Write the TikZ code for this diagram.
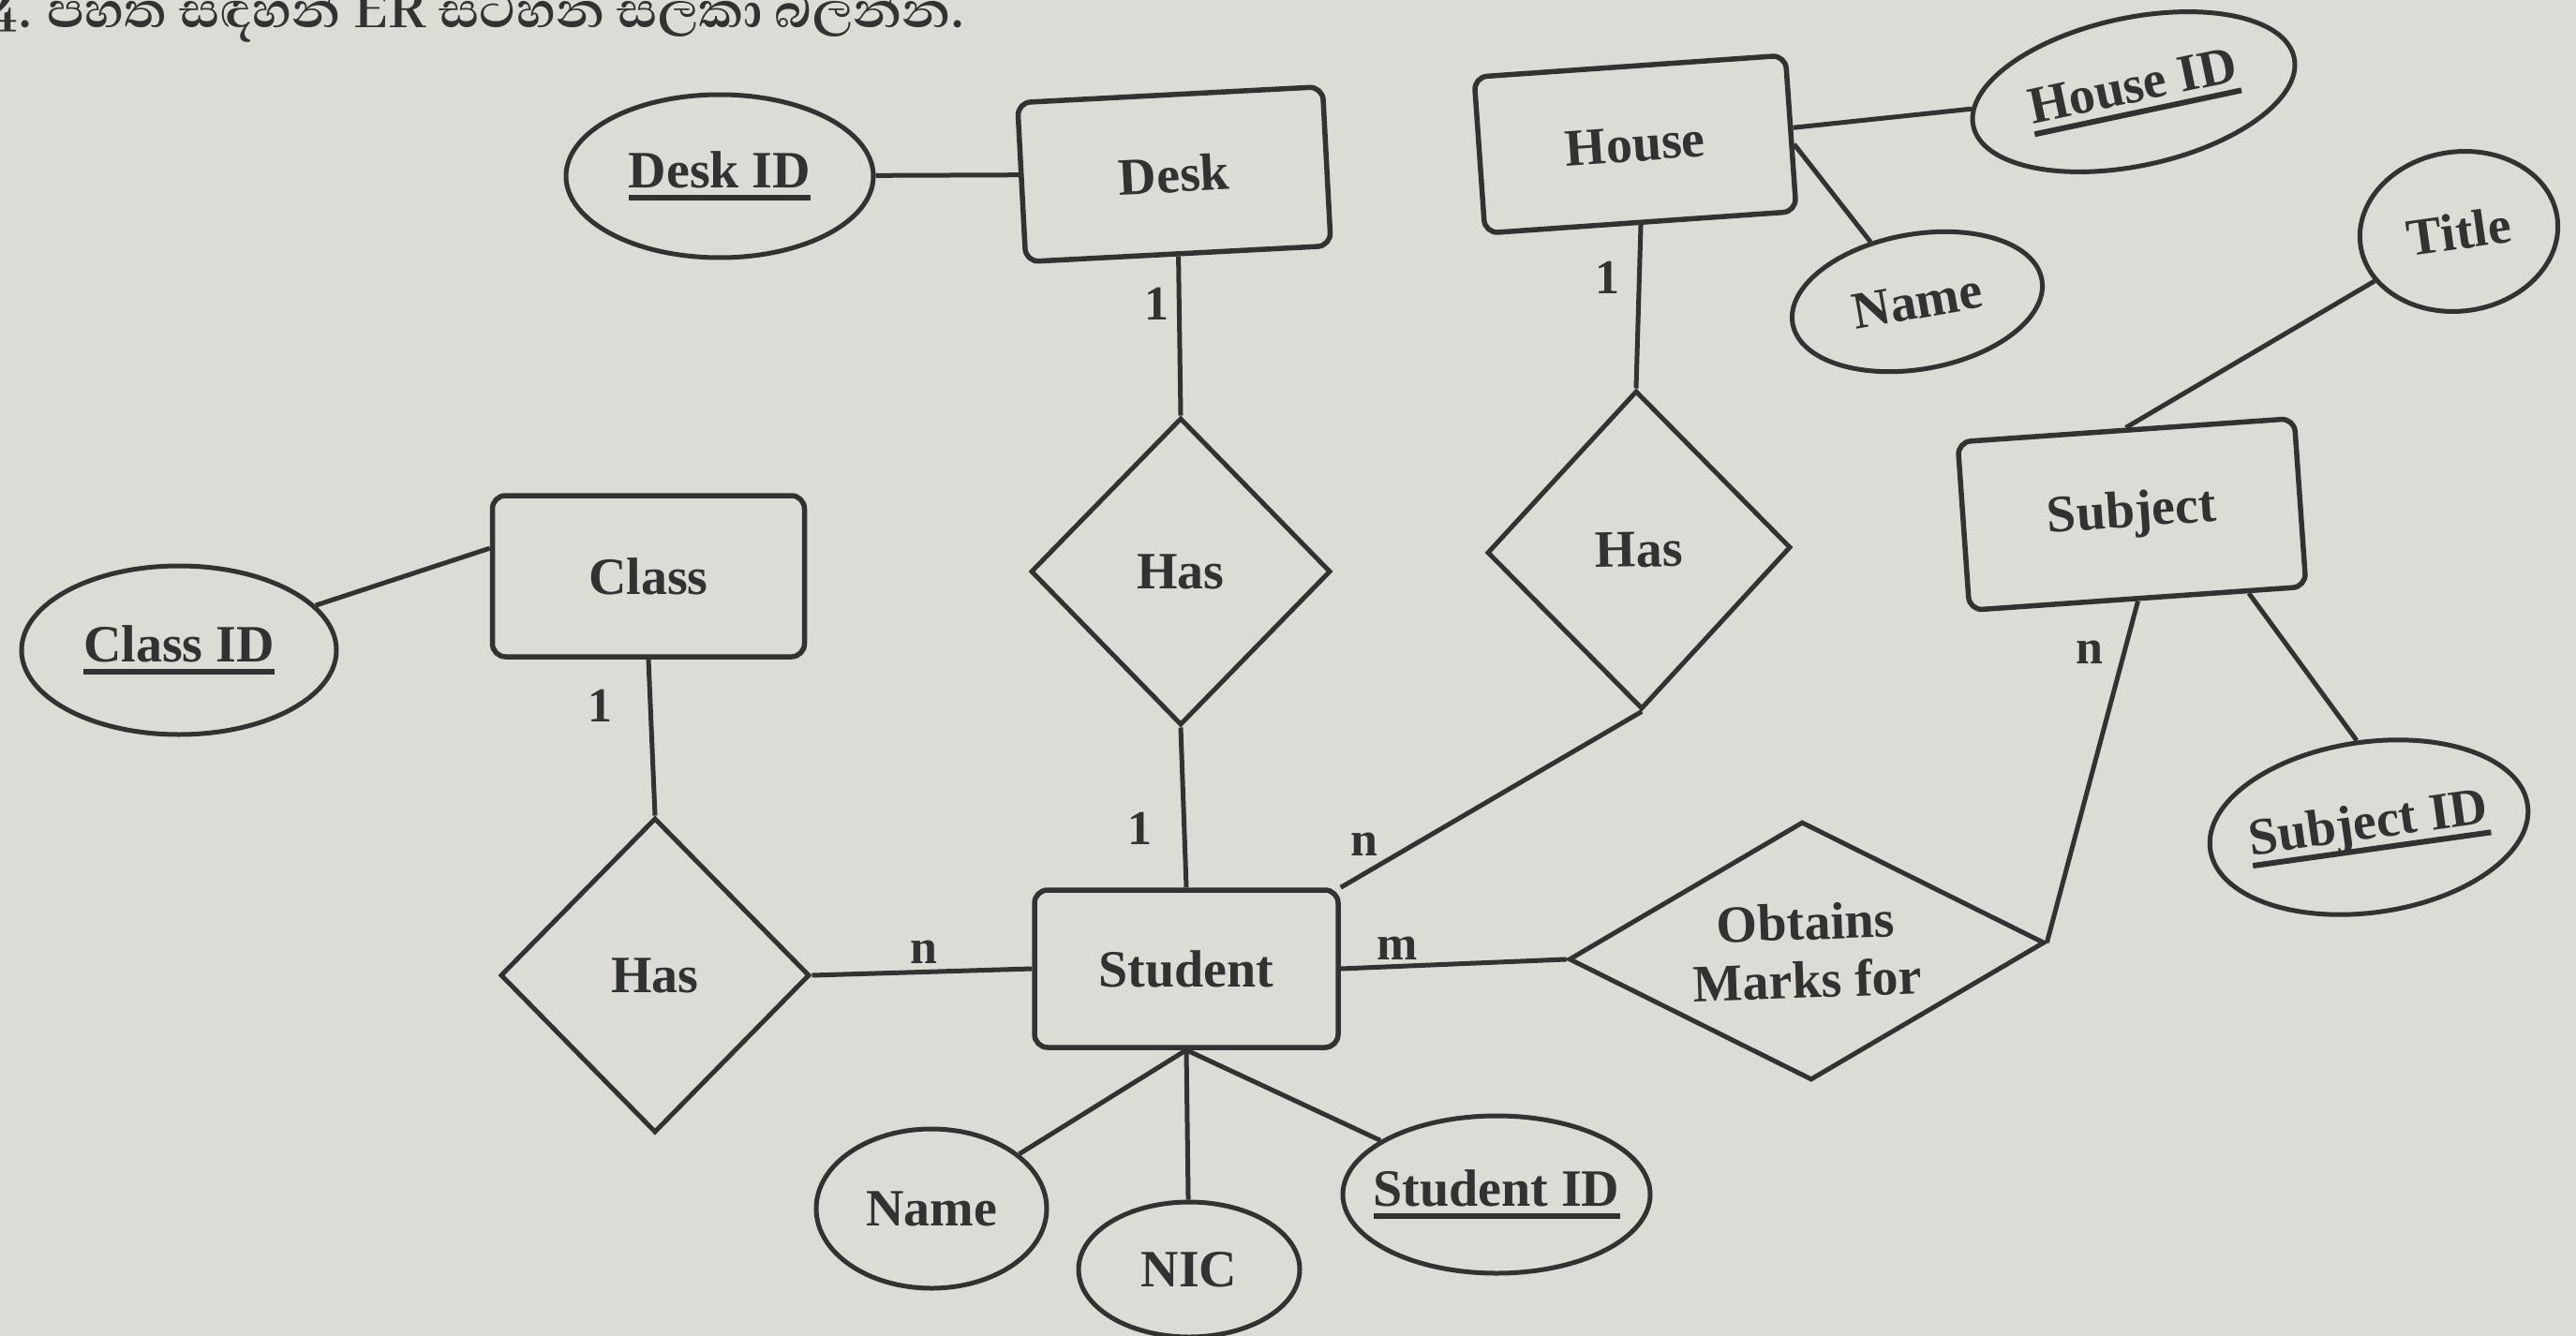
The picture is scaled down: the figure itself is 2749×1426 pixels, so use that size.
\documentclass[tikz,border=0pt]{standalone}
\usepackage{fontspec}
\setmainfont{Liberation Serif}
\newfontfamily\sinhalafont[Script=Sinhala]{Abhaya Libre}
\usetikzlibrary{shapes.geometric}
\definecolor{paper}{RGB}{221,219,214}
\definecolor{ink}{RGB}{50,50,50}
\newcommand{\keyattr}[1]{\makebox[0pt]{\setbox0=\hbox{#1}\rlap{\rule[-14pt]{\wd0}{6pt}}\box0}}
\begin{document}
\begin{tikzpicture}[x=1pt,y=-1pt,
  every node/.style={font=\fontsize{56}{62}\selectfont\bfseries, text=ink},
  entity/.style={draw=ink, line width=5.5pt, rounded corners=14pt, inner sep=0pt, rectangle},
  attr/.style={draw=ink, line width=5pt, ellipse, inner sep=0pt},
  rel/.style={draw=ink, line width=5pt, diamond, inner sep=0pt},
  conn/.style={draw=ink, line width=5pt},
  card/.style={font=\fontsize{52}{56}\selectfont\bfseries, text=ink, inner sep=0pt}]
\fill[paper] (0,0) rectangle (2749,1426);
\useasboundingbox (0,0) rectangle (2749,1426);

\node[anchor=base west, inner sep=0pt, font=\sinhalafont\bfseries\fontsize{68}{72}\selectfont] (head) at (-14,30) {4. පහත සඳහන් ER සටහන සලකා බලන්න.};

% entities
\node[entity, minimum width=326pt, minimum height=170pt, rotate=3] (desk) at (1253,186) {Desk};
\node[entity, minimum width=333pt, minimum height=167pt, rotate=4] (house) at (1745,154) {House};
\node[entity, minimum width=360pt, minimum height=180pt, rotate=4] (subject) at (2275,549) {Subject};
\node[entity, minimum width=333pt, minimum height=172pt] (class) at (692,615) {Class};
\node[entity, minimum width=324pt, minimum height=168pt] (student) at (1266,1034) {Student};

% attributes
\node[attr, minimum width=328pt, minimum height=174pt] (deskid) at (768,188) {\keyattr{Desk ID}};
\node[attr, minimum width=350pt, minimum height=158pt, rotate=12] (houseid) at (2277,98) {\keyattr{House ID}};
\node[attr, minimum width=270pt, minimum height=144pt, rotate=10] (hname) at (2046,322) {Name};
\node[attr, minimum width=212pt, minimum height=170pt, rotate=8] (title) at (2624,247) {Title};
\node[attr, minimum width=342pt, minimum height=182pt, rotate=8] (subjectid) at (2528,883) {\keyattr{Subject ID}};
\node[attr, minimum width=336pt, minimum height=180pt] (classid) at (191,694) {\keyattr{Class ID}};
\node[attr, minimum width=246pt, minimum height=170pt] (sname) at (994,1290) {Name};
\node[attr, minimum width=236pt, minimum height=144pt] (nic) at (1269,1355) {NIC};
\node[attr, minimum width=328pt, minimum height=168pt] (studentid) at (1597,1275) {\keyattr{Student ID}};

% relationships
\node[rel, minimum width=320pt, minimum height=328pt] (hasdesk) at (1260,610) {Has};
\node[rel, minimum width=324pt, minimum height=340pt, rotate=1] (hashouse) at (1749,587) {Has};
\node[rel, minimum width=330pt, minimum height=336pt] (hasclass) at (699,1041) {Has};
\node[rel, minimum width=508pt, minimum height=276pt, aspect=1.84, rotate=2, align=center] (obtains) at (1928,1015) {Obtains\\Marks for};

% connectors
\draw[conn] (deskid) -- (desk);
\draw[conn] (desk.south) -- node[card, pos=0.3, left=8pt] {1} (hasdesk.north);
\draw[conn] (hasdesk.south) -- node[card, pos=0.63, left=32pt] {1} (student.north);
\draw[conn] (house) -- (houseid);
\draw[conn] (house.-4) -- (hname);
\draw[conn] (house.south) -- node[card, pos=0.32, left=18pt] {1} (hashouse.north);
\draw[conn] (hashouse.south) -- node[card, pos=0.8, left=22pt, yshift=8pt] {n} (student.north east);
\draw[conn] (title) -- (subject.north);
\draw[conn] (subject.-38) -- (subjectid.north);
\draw[conn] (subject.south) -- node[card, pos=0.15, left=20pt] {n} (obtains.east);
\draw[conn] (student.east) -- node[card, pos=0.25, above=4pt] {m} (obtains.west);
\draw[conn] (class.170) -- (classid);
\draw[conn] (class.south) -- node[card, pos=0.3, left=38pt] {1} (hasclass.north);
\draw[conn] (hasclass.east) -- node[card, pos=0.51, above=6pt] {n} (student.west);
\draw[conn] (student.south) -- (sname);
\draw[conn] (student.south) -- (nic);
\draw[conn] (student.south) -- (studentid);
\end{tikzpicture}
\end{document}
